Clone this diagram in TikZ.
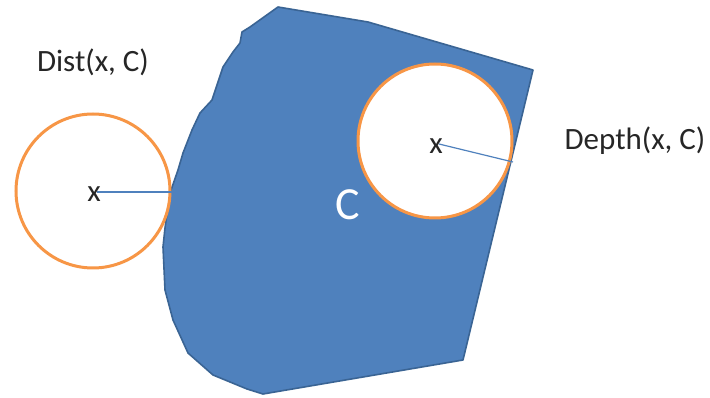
\documentclass[tikz,border=0pt]{standalone}
\usepackage{fontspec}
\setmainfont{Carlito}
\begin{document}
\begin{tikzpicture}[x=1pt,y=-1pt,
  region/.style={fill=blobblue,draw=blobedge,line width=1.6pt,line join=round},
  ball/.style={circle,draw=ballorange,fill=white,line width=3pt,minimum size=154pt,inner sep=0pt},
  lbl/.style={font=\fontsize{31}{36}\selectfont,text=black!85,inner sep=0pt},
  ctr/.style={font=\fontsize{31}{36}\selectfont,text=black!85,inner sep=0pt},
  radius line/.style={draw=blobblue,line width=1.2pt}]
\definecolor{blobblue}{HTML}{4F81BD}
\definecolor{blobedge}{HTML}{3A6494}
\definecolor{ballorange}{HTML}{F79646}
\useasboundingbox (0,0) rectangle (710,398);
\fill[white] (0,0) rectangle (710,398);
% the set C
\draw[region] (278,7) -- (368,22) -- (533,70) -- (463,360) -- (263,394)
  -- (247,389) -- (213,375) -- (188,353) -- (173,320) -- (165,290)
  -- (163,247) -- (165,228) -- (170,193) -- (178,170) -- (183,153)
  -- (192,130) -- (200,113) -- (212,100) -- (218,82) -- (223,67)
  -- (233,52) -- (240,43) -- (242,32) -- (250,27) -- cycle;
\node[font=\fontsize{46}{50}\selectfont,text=white,inner sep=0pt] (clabel) at (348,205) {C};
% balls
\node[ball] (leftball) at (93,191) {};
\node[ball] (rightball) at (435,141) {};
\node[ctr] (xleft) at (94,194) {x};
\node[ctr] (xright) at (436,146) {x};
\coordinate (leftstart) at (97,192);
\coordinate (lefttouch) at (172,192);
\coordinate (rightstart) at (439,144);
\coordinate (righttouch) at (513,162);
\draw[radius line] (leftstart) -- (lefttouch);
\draw[radius line] (rightstart) -- (righttouch);
% labels
\node[lbl] (distlabel) at (93,62) {Dist(x, C)};
\node[lbl] (depthlabel) at (635,141) {Depth(x, C)};
\end{tikzpicture}
\end{document}
